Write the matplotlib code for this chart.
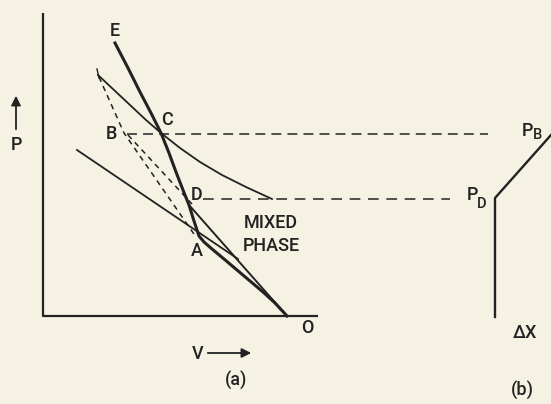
# P-V diagram with mixed phase region, and P vs dX sketch
import matplotlib.pyplot as plt

ink = '#222222'
paper = '#f5f2e3'
plt.rcParams['font.family'] = ['Roboto', 'DejaVu Sans']

# main (thick) curve from E down to O
hug_v = [72, 85, 97, 108, 118, 126, 133, 140, 146, 151, 156, 161, 169, 181, 194, 207, 220, 232, 244]
hug_p = [273, 248, 224, 203, 183, 163, 144, 126, 111, 95, 80, 74, 67, 57, 46, 35, 24, 13, 0]

# upper thin curve through C
up_v = [55, 71, 87, 103, 118, 137, 157, 179, 203, 229]
up_p = [241, 226, 211, 196, 183, 168, 154, 141, 129, 117]
tick_v = [54, 56]
tick_p = [247, 238]

# lower thin line through A
low_v = [34, 195]
low_p = [166, 57]

# straight line D -> O
do_v = [146, 244]
do_p = [111, 0]

# dashed chords
ch1_v, ch1_p = [56, 81, 153], [239, 183, 79]
ch2_v, ch2_p = [85, 149], [181, 112]

# horizontal dashed levels
pb_v, pb_p = [84, 445], [182, 182]
pd_v, pd_p = [160, 407], [117, 117]

# panel (b)
b_v = [452, 452, 508]
b_p = [-1, 118, 181]

fig = plt.figure(figsize=(5.51, 4.04), dpi=100, facecolor=paper)
ax = fig.add_axes([0, 0, 1, 1])
ax.set_facecolor(paper)
ax.set_xlim(-43, 508)
ax.set_ylim(-88, 316)
ax.axis('off')

# axes of panel (a)
ax.plot([0, 0, 275], [303, 0, 0], color=ink, lw=1.6, solid_capstyle='butt')

ax.plot(hug_v, hug_p, color=ink, lw=2.2, solid_joinstyle='round')
ax.plot(up_v, up_p, color=ink, lw=1.3, solid_joinstyle='round')
ax.plot(tick_v, tick_p, color=ink, lw=1.0)
ax.plot(low_v, low_p, color=ink, lw=1.3)
ax.plot(do_v, do_p, color=ink, lw=1.4)

for cv, cp in [(ch1_v, ch1_p), (ch2_v, ch2_p)]:
    ax.plot(cv, cp, color=ink, lw=1.1, dashes=(3.5, 3))

ax.plot(pb_v, pb_p, color=ink, lw=1.1, dashes=(6.5, 4))
ax.plot(pd_v, pd_p, color=ink, lw=1.1, dashes=(7, 5))

ax.plot(b_v, b_p, color=ink, lw=1.7)

# labels
fs = 13
lab = dict(color=ink, fontsize=fs, ha='center', va='center', fontweight='medium')
sub = dict(color=ink, fontsize=10.5, ha='center', va='center', fontweight='medium')
ax.text(72, 285, 'E', **lab)
ax.text(124, 196, 'C', **lab)
ax.text(68, 182, 'B', **lab)
ax.text(154, 121, 'D', **lab)
ax.text(154, 65, 'A', **lab)
ax.text(264, -12, 'O', **lab)
ax.text(228, 93, 'MIXED', **lab)
ax.text(228, 70, 'PHASE', **lab)

ax.text(155, -38, 'V', **lab)
ax.annotate('', xy=(211, -37), xytext=(162, -37),
            arrowprops=dict(arrowstyle='-|>', color=ink, lw=1.3, mutation_scale=14))
ax.text(-27, 171, 'P', **lab)
ax.annotate('', xy=(-27, 223), xytext=(-27, 184),
            arrowprops=dict(arrowstyle='-|>', color=ink, lw=1.3, mutation_scale=14))

ax.text(193, -65, '(a)', **lab)
ax.text(479, -74, '(b)', **lab)

ax.text(484, 185, 'P', **lab)
ax.text(495, 181, 'B', **sub)
ax.text(429, 121, 'P', **lab)
ax.text(439, 112, 'D', **sub)
ax.text(482, -17, 'ΔX', **lab)

fig.savefig('out.png', dpi=100, facecolor=paper)
